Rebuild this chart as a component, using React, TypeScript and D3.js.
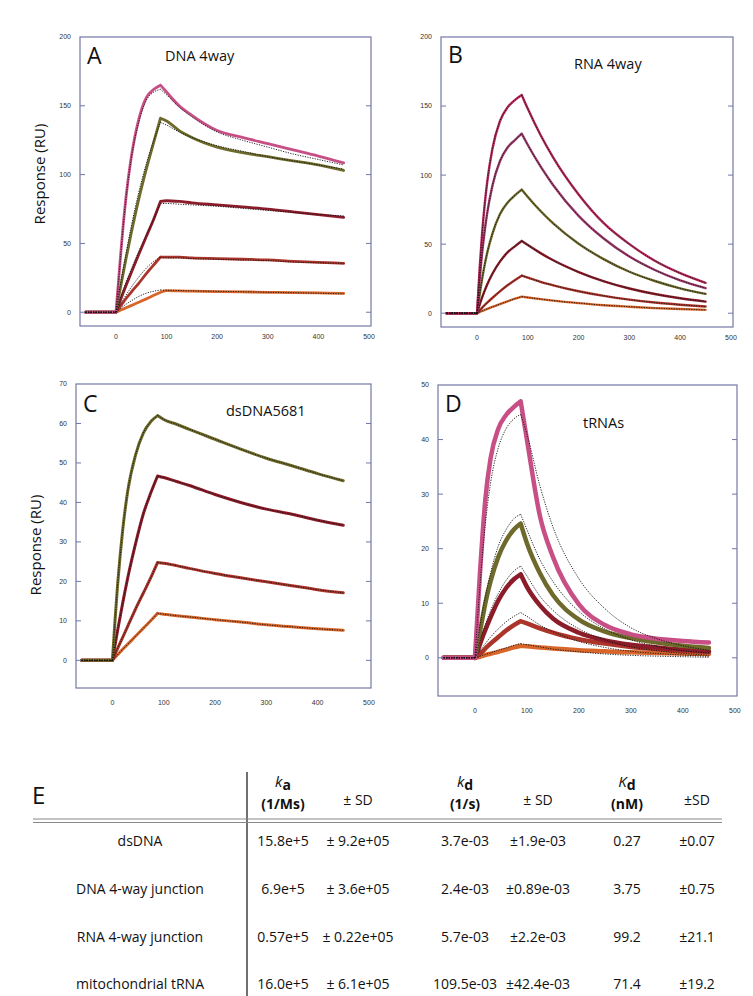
import React from "react";
import * as d3 from "d3";

// ---------- data ----------
const TIME = [-60, 0, 5, 10, 15, 20, 30, 45, 60, 75, 88, 100, 125, 150, 200, 250, 300, 350, 400, 450];
const X_TICKS = [0, 100, 200, 300, 400, 500];
const Y_TICKS_AB = [0, 50, 100, 150, 200];
const Y_TICKS_C = [0, 10, 20, 30, 40, 50, 60, 70];
const Y_TICKS_D = [0, 10, 20, 30, 40, 50];

// Panel A – DNA 4way
const A_PINK = [0, 0, 22, 45, 66, 84, 112, 140, 156, 162, 165, 160, 150, 143, 132, 127, 122.5, 118, 113.5, 108.5];
const A_PINK_FIT = [0, 0, 22, 44, 65, 83, 111, 138, 154, 160, 162, 158, 149, 142, 131, 125, 120, 115, 111, 107];
const A_OLIVE = [0, 0, 10, 20, 29.5, 39, 57, 82, 104, 124, 141, 139, 132, 127, 120, 116, 113, 110, 107, 103];
const A_OLIVE_FIT = [0, 0, 11.5, 22.5, 33, 43, 62, 87, 108, 125, 138, 136, 131, 127, 121, 117, 113, 110, 107, 104];
const A_DARKRED = [0, 0, 5, 10, 14.8, 19.5, 28.5, 42, 55, 68, 80.5, 81, 80.5, 79.5, 78, 76.5, 75, 73, 71, 69];
const A_DARKRED_FIT = [0, 0, 6, 11.5, 17, 22, 31, 44, 56, 68, 79, 79, 78.5, 78, 77, 75.5, 74, 72.5, 71, 70];
const A_REDBROWN = [0, 0, 2.5, 5, 7.5, 10, 14.5, 21, 28, 34.5, 40, 40, 40, 39.5, 39, 38.5, 38, 37, 36.3, 35.5];
const A_REDBROWN_FIT = [0, 0, 3.5, 6.5, 9.5, 12.5, 18, 25.5, 32, 37, 40, 39.5, 39.5, 39, 38.5, 38, 37.5, 36.5, 36, 35.5];
const A_ORANGE = [0, 0, 0.8, 1.6, 2.4, 3.2, 4.8, 7.2, 9.7, 12.3, 14.5, 15.7, 15.5, 15.3, 15, 14.8, 14.5, 14.2, 14, 13.7];
const A_ORANGE_FIT = [0, 0, 1.5, 3, 4.4, 5.8, 8.2, 11.5, 13.8, 15.3, 16.2, 16, 15.8, 15.5, 15.2, 14.9, 14.5, 14.2, 13.8, 13.4];

// Panel B – RNA 4way
const B_CRIMSON = [0, 0, 32, 58, 78.6, 95, 118.6, 139, 149, 154.5, 158, 148, 129, 112.7, 86, 65, 50, 38, 29, 22];
const B_MAUVE = [0, 0, 24, 43.6, 59.5, 72.5, 92, 110, 120, 125.5, 130, 121.8, 106.3, 92.7, 70.5, 53.9, 41, 31.3, 23.8, 18.2];
const B_OLIVE = [0, 0, 13.3, 24.9, 35, 43.7, 57.3, 71.6, 80, 85.5, 89.5, 84.2, 74, 65, 50.3, 39, 30, 23.3, 18, 14];
const B_RED = [0, 0, 6, 11.4, 16.3, 20.8, 28.4, 37.3, 44, 48.6, 52.3, 49.3, 43.5, 38.3, 29.8, 23.1, 17.9, 13.9, 10.8, 8.4];
const B_REDBROWN = [0, 0, 2, 3.9, 5.8, 7.6, 11, 15.8, 20.2, 24.1, 27.2, 25.7, 22.7, 20.2, 15.9, 12.5, 9.8, 7.7, 6.1, 4.8];
const B_ORANGE = [0, 0, 0.8, 1.6, 2.3, 3.1, 4.5, 6.6, 8.6, 10.5, 12, 11.4, 10.2, 9.1, 7.3, 5.8, 4.7, 3.7, 3, 2.4];

// Panel C – dsDNA5681
const C_OLIVE = [0, 0, 10, 19, 26.5, 33, 43, 52, 57.5, 60.5, 62, 61, 59.8, 58.5, 56, 53.5, 51.2, 49.3, 47.3, 45.5];
const C_DARKRED = [0, 0, 3.8, 7.5, 11, 14.5, 21, 29.5, 37, 42.5, 46.7, 46.3, 45.3, 44.3, 42, 40, 38.3, 37, 35.5, 34.2];
const C_REDBROWN = [0, 0, 1.5, 3, 4.4, 5.8, 8.7, 13, 17, 21, 24.8, 24.6, 24, 23.3, 22, 20.9, 19.9, 18.9, 17.9, 17.1];
const C_ORANGE = [0, 0, 0.7, 1.4, 2.1, 2.8, 4.1, 6.1, 8.1, 10.1, 11.9, 11.7, 11.3, 11, 10.3, 9.7, 9, 8.5, 8, 7.6];

// Panel D – tRNAs
const D_PINK = [0, 0, 8, 16, 23, 29, 36.5, 42, 44.5, 46, 47, 40, 26, 18.5, 9.8, 6, 4.3, 3.5, 3.1, 2.8];
const D_PINK_FIT = [0, 0, 7, 13.5, 19.5, 24.5, 32, 38.5, 42, 43.8, 44.6, 41, 31.5, 24, 14.5, 9, 5.5, 3.5, 2.2, 1.4];
const D_OLIVE = [0, 0, 2.5, 5, 7.5, 10, 14, 18.5, 21.5, 23.5, 24.6, 21, 15.5, 11.5, 7, 4.8, 3.6, 2.8, 2.2, 1.8];
const D_OLIVE_FIT = [0, 0, 3, 6, 8.7, 11.2, 15.5, 20.5, 23.5, 25.5, 26.3, 23.5, 18, 14, 8.5, 5.3, 3.3, 2.1, 1.3, 0.9];
const D_DARKRED = [0, 0, 1.3, 2.6, 3.9, 5.1, 7.4, 10.5, 12.8, 14.4, 15.3, 13, 9.6, 7.2, 4.6, 3.2, 2.4, 1.9, 1.5, 1.2];
const D_DARKRED_FIT = [0, 0, 1.6, 3.2, 4.7, 6.1, 8.6, 11.8, 14.2, 15.9, 16.8, 15, 11.3, 8.7, 5.3, 3.3, 2, 1.3, 0.8, 0.5];
const D_REDBROWN = [0, 0, 0.4, 0.8, 1.2, 1.7, 2.6, 3.8, 5, 6, 6.7, 6.3, 5.4, 4.6, 3.4, 2.6, 2, 1.6, 1.3, 1.1];
const D_REDBROWN_FIT = [0, 0, 0.7, 1.4, 2, 2.6, 3.8, 5.3, 6.6, 7.6, 8.3, 7.6, 6, 4.8, 3, 1.9, 1.2, 0.8, 0.5, 0.3];
const D_ORANGE = [0, 0, 0.1, 0.2, 0.35, 0.5, 0.75, 1.1, 1.5, 1.9, 2.2, 2.1, 1.9, 1.7, 1.4, 1.2, 1, 0.9, 0.8, 0.7];
const D_ORANGE_FIT = [0, 0, 0.15, 0.3, 0.45, 0.6, 0.9, 1.4, 1.8, 2.3, 2.6, 2.4, 2, 1.6, 1.1, 0.7, 0.45, 0.3, 0.2, 0.1];

// Table E
const TABLE_ROWS = ["dsDNA", "DNA 4-way junction", "RNA 4-way junction", "mitochondrial tRNA"];
const KA = ["15.8e+5", "6.9e+5", "0.57e+5", "16.0e+5"];
const KA_SD = ["± 9.2e+05", "± 3.6e+05", "± 0.22e+05", "± 6.1e+05"];
const KD = ["3.7e-03", "2.4e-03", "5.7e-03", "109.5e-03"];
const KD_SD = ["±1.9e-03", "±0.89e-03", "±2.2e-03", "±42.4e-03"];
const KDISS = ["0.27", "3.75", "99.2", "71.4"];
const KDISS_SD = ["±0.07", "±0.75", "±21.1", "±19.2"];

// ---------- styling ----------
const C_PINK = "#c84f86";
const C_CRIMSON = "#b5285c";
const C_MAUVE = "#9c3b6b";
const C_OLIVE_COL = "#6e6a2b";
const C_DARKRED_COL = "#8c1c2a";
const C_REDBROWN_COL = "#ab352b";
const C_ORANGE_COL = "#d8662b";
const FRAME = "#7377a6";
const SANS = "'Open Sans', 'Noto Sans', sans-serif";
const TICKFONT = "'Liberation Sans', Arial, sans-serif";

type Series = { vals: number[]; fit: number[]; color: string };

type PanelProps = {
  left: number; right: number; top: number; bottom: number;
  yDomain: [number, number]; yTicks: number[]; labelGap: number;
  letter: string; title: string; titleX: number; titleY: number; letterY: number;
  series: Series[]; width: number;
};

function segPath(x: d3.ScaleLinear<number, number>, y: d3.ScaleLinear<number, number>, vals: number[]) {
  const pts: [number, number][] = TIME.map((t, i) => [x(t), y(vals[i])]);
  const i0 = TIME.indexOf(0);
  const ip = TIME.indexOf(88);
  const gen = d3.line().curve(d3.curveMonotoneX);
  return [pts.slice(0, i0 + 1), pts.slice(i0, ip + 1), pts.slice(ip)].map((p) => gen(p) || "").join("");
}

function Panel(p: PanelProps) {
  const x = d3.scaleLinear().domain([-71, 504]).range([p.left, p.right]);
  const y = d3.scaleLinear().domain(p.yDomain).range([p.bottom, p.top]);
  return (
    <g>
      {p.series.map((s, i) => (
        <path key={"d" + i} d={segPath(x, y, s.vals)} fill="none" stroke={s.color} strokeWidth={p.width} strokeLinejoin="round" strokeLinecap="round" />
      ))}
      {p.series.map((s, i) => (
        <path key={"f" + i} d={segPath(x, y, s.fit)} fill="none" stroke="#111" strokeWidth={0.9} strokeDasharray="1.2,1.3" />
      ))}
      <rect x={p.left} y={p.top} width={p.right - p.left} height={p.bottom - p.top} fill="none" stroke={FRAME} strokeWidth={1.2} />
      {p.yTicks.map((t) => (
        <g key={t}>
          {t !== p.yDomain[1] && (
            <>
              <line x1={p.left} x2={p.left + 5} y1={y(t)} y2={y(t)} stroke={FRAME} strokeWidth={1} />
              <line x1={p.right - 5} x2={p.right} y1={y(t)} y2={y(t)} stroke={FRAME} strokeWidth={1} />
            </>
          )}
          <text x={p.left - 9} y={y(t)} dy="0.35em" textAnchor="end" fontSize={7} fontFamily={TICKFONT} fill="#333">{t}</text>
        </g>
      ))}
      {X_TICKS.map((t) => (
        <text key={t} x={x(t)} y={p.bottom + p.labelGap} dy="0.35em" textAnchor="middle" fontSize={7} fontFamily={TICKFONT} fill="#333">{t}</text>
      ))}
      <text x={p.left + 7} y={p.letterY} fontSize={23} fontFamily={SANS} fill="#111">{p.letter}</text>
      <text x={p.titleX} y={p.titleY} fontSize={14.5} fontFamily={SANS} fill="#111">{p.title}</text>
    </g>
  );
}

export default function App() {
  const colX = [283, 358, 465, 538, 627, 697];
  const rowY = [846, 894, 942, 989];
  const cols = [KA, KA_SD, KD, KD_SD, KDISS, KDISS_SD];
  return (
    <svg width={753} height={996} style={{ position: "absolute", left: 0, top: 0, background: "#fff" }}>
      <rect width={753} height={996} fill="#fff" />
      <Panel left={80} right={371} top={37} bottom={326} yDomain={[-10, 200]} yTicks={Y_TICKS_AB} labelGap={11}
        letter="A" letterY={64} title="DNA 4way" titleX={165} titleY={61} width={2.8}
        series={[
          { vals: A_ORANGE, fit: A_ORANGE_FIT, color: C_ORANGE_COL },
          { vals: A_REDBROWN, fit: A_REDBROWN_FIT, color: C_REDBROWN_COL },
          { vals: A_DARKRED, fit: A_DARKRED_FIT, color: C_DARKRED_COL },
          { vals: A_OLIVE, fit: A_OLIVE_FIT, color: C_OLIVE_COL },
          { vals: A_PINK, fit: A_PINK_FIT, color: C_PINK },
        ]} />
      <Panel left={441} right={733} top={37} bottom={327} yDomain={[-10, 200]} yTicks={Y_TICKS_AB} labelGap={11}
        letter="B" letterY={63} title="RNA 4way" titleX={574} titleY={69} width={2.4}
        series={[
          { vals: B_ORANGE, fit: B_ORANGE, color: C_ORANGE_COL },
          { vals: B_REDBROWN, fit: B_REDBROWN, color: C_REDBROWN_COL },
          { vals: B_RED, fit: B_RED, color: C_DARKRED_COL },
          { vals: B_OLIVE, fit: B_OLIVE, color: C_OLIVE_COL },
          { vals: B_MAUVE, fit: B_MAUVE, color: C_MAUVE },
          { vals: B_CRIMSON, fit: B_CRIMSON, color: C_CRIMSON },
        ]} />
      <Panel left={76} right={371} top={384} bottom={688} yDomain={[-7, 70]} yTicks={Y_TICKS_C} labelGap={15}
        letter="C" letterY={412} title="dsDNA5681" titleX={226} titleY={416} width={3}
        series={[
          { vals: C_ORANGE, fit: C_ORANGE, color: C_ORANGE_COL },
          { vals: C_REDBROWN, fit: C_REDBROWN, color: C_REDBROWN_COL },
          { vals: C_DARKRED, fit: C_DARKRED, color: C_DARKRED_COL },
          { vals: C_OLIVE, fit: C_OLIVE, color: C_OLIVE_COL },
        ]} />
      <Panel left={438} right={737} top={385} bottom={696} yDomain={[-7, 50]} yTicks={Y_TICKS_D} labelGap={15}
        letter="D" letterY={412} title="tRNAs" titleX={583} titleY={428} width={4.5}
        series={[
          { vals: D_ORANGE, fit: D_ORANGE_FIT, color: C_ORANGE_COL },
          { vals: D_REDBROWN, fit: D_REDBROWN_FIT, color: C_REDBROWN_COL },
          { vals: D_DARKRED, fit: D_DARKRED_FIT, color: C_DARKRED_COL },
          { vals: D_OLIVE, fit: D_OLIVE_FIT, color: C_OLIVE_COL },
          { vals: D_PINK, fit: D_PINK_FIT, color: C_PINK },
        ]} />
      <text transform="translate(45,174) rotate(-90)" textAnchor="middle" fontSize={15} fontFamily={SANS} fill="#111">Response (RU)</text>
      <text transform="translate(41,545) rotate(-90)" textAnchor="middle" fontSize={15} fontFamily={SANS} fill="#111">Response (RU)</text>

      {/* Table E */}
      <text x={32} y={804} fontSize={24} fontFamily={SANS} fill="#111">E</text>
      <line x1={247} x2={247} y1={772} y2={996} stroke="#111" strokeWidth={1.2} />
      <line x1={33} x2={722} y1={819} y2={819} stroke="#888" strokeWidth={1} />
      <line x1={33} x2={722} y1={822.5} y2={822.5} stroke="#888" strokeWidth={1} />
      {[{ x: colX[0], s: "a", u: "(1/Ms)", k: "k" }, { x: colX[2], s: "d", u: "(1/s)", k: "k" }, { x: colX[4], s: "d", u: "(nM)", k: "K" }].map((h) => (
        <g key={h.u}>
          <text x={h.x} y={787} textAnchor="middle" fontFamily={SANS} fill="#111">
            <tspan fontStyle="italic" fontSize={15}>{h.k}</tspan>
            <tspan fontWeight="bold" fontSize={14} dy={3}>{h.s}</tspan>
          </text>
          <text x={h.x} y={809} textAnchor="middle" fontSize={14} fontWeight="bold" fontFamily={SANS} fill="#111">{h.u}</text>
        </g>
      ))}
      {[colX[1], colX[3]].map((cx) => (
        <text key={cx} x={cx} y={805} textAnchor="middle" fontSize={14} fontFamily={SANS} fill="#111">± SD</text>
      ))}
      <text x={colX[5]} y={805} textAnchor="middle" fontSize={14} fontFamily={SANS} fill="#111">±SD</text>
      {TABLE_ROWS.map((r, i) => (
        <text key={r} x={140} y={rowY[i]} textAnchor="middle" fontSize={14} fontFamily={SANS} fill="#111">{r}</text>
      ))}
      {cols.map((col, ci) =>
        col.map((v, ri) => (
          <text key={ci + "-" + ri} x={colX[ci]} y={rowY[ri]} textAnchor="middle" fontSize={14} fontFamily={SANS} fill="#111">{v}</text>
        ))
      )}
    </svg>
  );
}
